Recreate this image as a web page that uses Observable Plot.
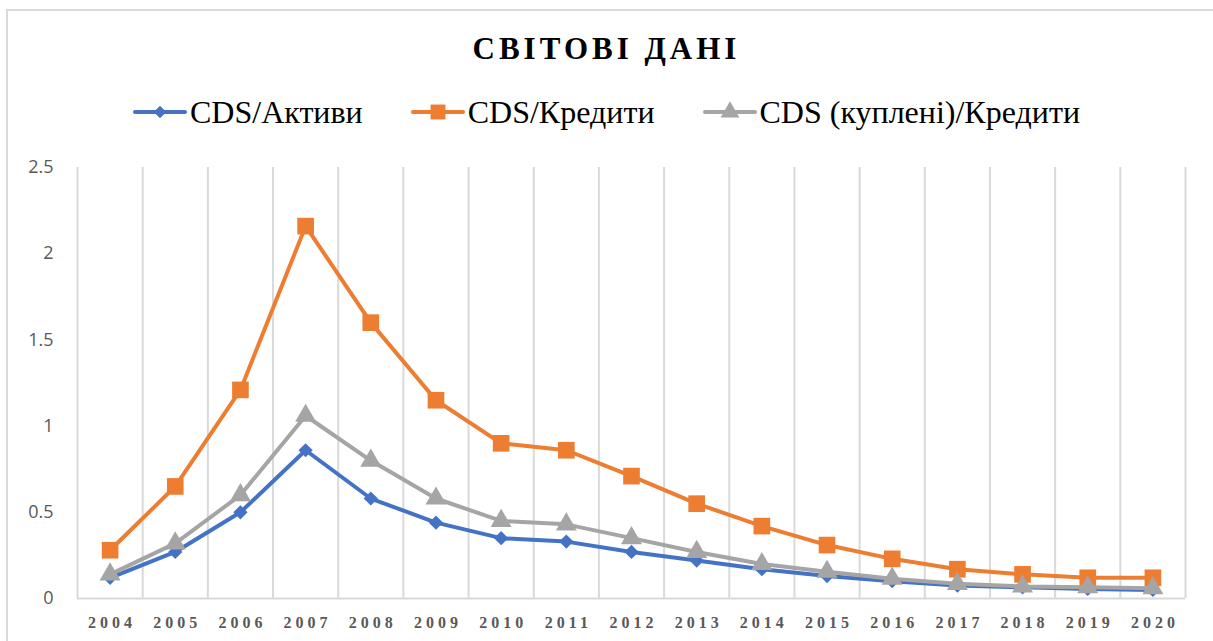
<!DOCTYPE html>
<html>
<head>
<meta charset="utf-8">
<script src="https://cdn.jsdelivr.net/npm/d3@7"></script>
<script src="https://cdn.jsdelivr.net/npm/@observablehq/plot@0.6"></script>
<style>
  html, body { margin: 0; padding: 0; background: #fff; }
  #wrap { position: relative; width: 1213px; height: 641px; overflow: hidden; background: #fff; }
  #frame { position: absolute; left: 6px; top: 9px; width: 1230px; height: 660px; border: 2px solid #d9d9d9; box-sizing: border-box; }
  #title { position: absolute; left: 0; top: 29px; width: 1213px; text-align: center; line-height: 40px;
    font-family: "Liberation Serif", serif; font-weight: bold; font-size: 31px; letter-spacing: 4px; color: #000; }
  #legend { position: absolute; left: 0; top: 92px; width: 1213px; display: flex; justify-content: center; gap: 48px; line-height: 40px;
    font-family: "Liberation Serif", serif; font-size: 32px; color: #000; }
  .item { display: flex; align-items: center; }
  .item span { font-family: "Liberation Serif", serif; font-size: 32px; }
  .item svg { margin-right: 3px; }
  #chart { position: absolute; left: 0; top: 140px; }
  #chart g[aria-label="x-axis tick label"] text { letter-spacing: 4px; font-size: 16px !important; font-weight: bold; font-family: "Liberation Serif", serif; }
  #chart g[aria-label="y-axis tick label"] text { font-size: 18px !important; font-family: "Open Sans", sans-serif; }
</style>
</head>
<body>
<div id="wrap">
  <div id="frame"></div>
  <div id="title"></div>
  <div id="legend"></div>
  <div id="chart"></div>
</div>
<script>
const years = [2004,2005,2006,2007,2008,2009,2010,2011,2012,2013,2014,2015,2016,2017,2018,2019,2020];
const seriesNames = ["CDS/Активи", "CDS/Кредити", "CDS (куплені)/Кредити"];
const assets =   [0.12,0.27,0.50,0.86,0.58,0.44,0.35,0.33,0.27,0.22,0.17,0.13,0.10,0.075,0.065,0.055,0.05];
const credits =  [0.28,0.65,1.21,2.16,1.60,1.15,0.90,0.86,0.71,0.55,0.42,0.31,0.23,0.17,0.14,0.12,0.12];
const bought =   [0.14,0.32,0.60,1.06,0.80,0.58,0.45,0.43,0.35,0.27,0.20,0.155,0.115,0.085,0.07,0.065,0.06];
const yTicks = [0, 0.5, 1, 1.5, 2, 2.5];
const titleText = "СВІТОВІ ДАНІ";

const colors = ["#4472C4", "#ED7D31", "#A5A5A5"];
const symbols = ["diamond2", "square", "triangle"];
const radii = [6.4, 9.4, 7.8];
const values = [assets, credits, bought];

document.getElementById("title").textContent = titleText;

// legend
const legend = document.getElementById("legend");
seriesNames.forEach((name, i) => {
  const item = document.createElement("div");
  item.className = "item";
  const sym = d3.symbol(
    {diamond2: d3.symbolDiamond2, square: d3.symbolSquare, triangle: d3.symbolTriangle}[symbols[i]],
    Math.PI * radii[i] * radii[i] * 0.8
  )();
  item.innerHTML = `<svg width="54" height="20" viewBox="0 0 54 20">
      <line x1="2" y1="10" x2="52" y2="10" stroke="${colors[i]}" stroke-width="4" stroke-linecap="round"/>
      <path d="${sym}" transform="translate(27,10)" fill="${colors[i]}"/>
    </svg><span style="font-family:'Liberation Serif',serif">${name}</span>`;
  legend.appendChild(item);
});

const data = [];
seriesNames.forEach((name, i) => {
  years.forEach((yr, j) => data.push({series: name, idx: i, year: yr, value: values[i][j]}));
});

const boundaries = [years[0] - 0.5, ...years.map(y => y + 0.5)];

const chart = Plot.plot({
  width: 1213,
  height: 501,
  marginTop: 27,
  marginBottom: 43,
  marginLeft: 77,
  marginRight: 28,
  style: {background: "transparent", overflow: "visible"},
  x: {domain: [years[0] - 0.5, years[years.length - 1] + 0.5], axis: null, label: null},
  y: {domain: [0, 2.5], axis: null, label: null},
  marks: [
    Plot.ruleX(boundaries, {stroke: "#d9d9d9", strokeWidth: 2}),
    Plot.ruleY([0], {stroke: "#d9d9d9", strokeWidth: 2}),
    Plot.axisY(yTicks, {
      anchor: "left", tickSize: 0, tickPadding: 24, tickFormat: d => String(d), label: null,
      fontSize: 18, fill: "#595959"
    }),
    Plot.axisX(years, {
      anchor: "bottom", tickSize: 0, tickPadding: 18, tickFormat: d => String(d), label: null,
      fontSize: 16, fontWeight: "bold", fill: "#595959", dx: 2
    }),
    ...seriesNames.flatMap((name, i) => [
      Plot.line(data.filter(d => d.idx === i), {x: "year", y: "value", stroke: colors[i], strokeWidth: 4, strokeLinejoin: "round"}),
      Plot.dot(data.filter(d => d.idx === i), {x: "year", y: "value", symbol: () => symbols[i], r: radii[i], fill: colors[i], stroke: "none"})
    ])
  ]
});
document.getElementById("chart").appendChild(chart);
</script>
</body>
</html>
